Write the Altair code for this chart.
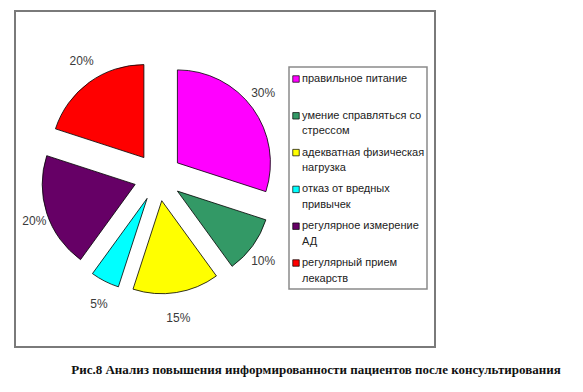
import altair as alt
import pandas as pd

categories = ["правильное питание", "умение справляться со стрессом",
              "адекватная физическая нагрузка", "отказ от вредных привычек",
              "регулярное измерение АД", "регулярный прием лекарств"]
legend_lines = [["правильное питание"], ["умение справляться со", "стрессом"],
                ["адекватная физическая", "нагрузка"], ["отказ от вредных", "привычек"],
                ["регулярное измерение", "АД"], ["регулярный прием", "лекарств"]]
values = [30, 10, 15, 5, 20, 20]
colors = ["#FF00FF", "#339966", "#FFFF00", "#00FFFF", "#660066", "#FF0000"]
caption = "Рис.8 Анализ повышения информированности пациентов после консультирования"

df = pd.DataFrame({
    "cat": categories,
    "value": values,
    "order": list(range(len(values))),
    "legend": ["|".join(l) for l in legend_lines],
})

CX, CY = 150, 169
R = 93
EXPLODE = 24

color_scale = alt.Scale(domain=categories, range=colors)

base = alt.Chart(df).transform_joinaggregate(
    total="sum(value)"
).transform_window(
    cum="sum(value)", sort=[alt.SortField("order")], frame=[None, 0]
).transform_calculate(
    t0="2*PI*(datum.cum - datum.value)/datum.total",
    t1="2*PI*datum.cum/datum.total",
).transform_calculate(
    mid="(datum.t0 + datum.t1)/2"
).transform_calculate(
    cx=f"{CX} + {EXPLODE}*sin(datum.mid)",
    cy=f"{CY} - {EXPLODE}*cos(datum.mid)",
    lx=f"{CX} + 130*sin(datum.mid)",
    ly=f"{CY} - 143*cos(datum.mid)",
    pct="datum.value + '%'",
)

slices = base.mark_arc(radius=R, stroke="#000000", strokeWidth=0.8).encode(
    theta=alt.Theta("t0:Q", scale=None),
    theta2=alt.Theta2("t1:Q"),
    x=alt.X("cx:Q", scale=None),
    y=alt.Y("cy:Q", scale=None),
    color=alt.Color("cat:N", scale=color_scale, legend=None),
)

pct_labels = base.mark_text(font="Liberation Sans", fontSize=12, color="#3a3a3a").encode(
    x=alt.X("lx:Q", scale=None),
    y=alt.Y("ly:Q", scale=None),
    text="pct:N",
)

leg_base = alt.Chart(df).transform_calculate(
    my="71 + 36.8*datum.order",
    ty="71 + 36.8*datum.order - 6",
    lines="split(datum.legend, '|')",
)

leg_marks = leg_base.mark_square(size=42, stroke="#000000", strokeWidth=0.7, opacity=1).encode(
    x=alt.value(288),
    y=alt.Y("my:Q", scale=None),
    fill=alt.Color("cat:N", scale=color_scale, legend=None),
)

leg_text = leg_base.mark_text(align="left", baseline="top", font="Liberation Sans",
                              fontSize=11, lineHeight=15.5, color="#222222").encode(
    x=alt.value(294),
    y=alt.Y("ty:Q", scale=None),
    text=alt.Text("lines:N"),
)

one = pd.DataFrame({"k": [0]})

frame = alt.Chart(one).mark_rect(fill=None, stroke="#7a7a7a", strokeWidth=2).encode(
    x=alt.value(7), x2=alt.value(427), y=alt.value(3), y2=alt.value(339)
)

leg_box = alt.Chart(one).mark_rect(fill=None, stroke="#8a8a8a", strokeWidth=1.5).encode(
    x=alt.value(281), x2=alt.value(419), y=alt.value(59), y2=alt.value(281)
)

cap = alt.Chart(pd.DataFrame({"t": [caption]})).mark_text(
    font="Liberation Serif", fontSize=13, fontWeight="bold", color="#111111"
).encode(
    x=alt.value(308), y=alt.value(362), text="t:N"
)

chart = alt.layer(frame, slices, pct_labels, leg_box, leg_marks, leg_text, cap).properties(
    width=567, height=376, padding=0, autosize=alt.AutoSizeParams(type="none")
).configure_view(stroke=None)

chart.save("out.html", embed_options={"renderer": "svg", "actions": False})
